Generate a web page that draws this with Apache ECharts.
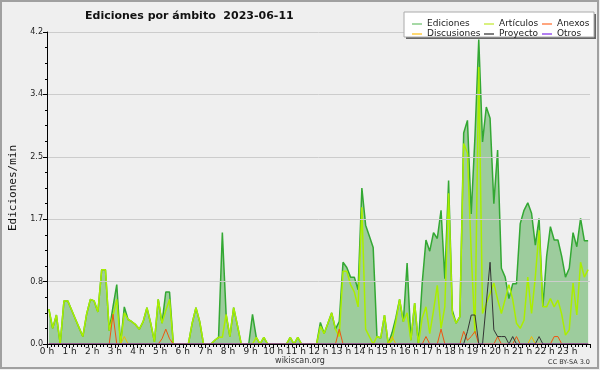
<!DOCTYPE html>
<html><head><meta charset="utf-8">
<script src="https://cdn.jsdelivr.net/npm/echarts@6/dist/echarts.min.js"></script>
<style>html,body{margin:0;padding:0;background:#efefef}#c{width:600px;height:370px}</style>
</head><body><div id="c"></div>
<script>
const title = 'Ediciones por ámbito  2023-06-11';
const seriesNames = ['Ediciones','Artículos','Anexos','Discusiones','Proyecto','Otros'];
const hourLabels = ['0 h','1 h','2 h','3 h','4 h','5 h','6 h','7 h','8 h','9 h','10 h','11 h','12 h','13 h','14 h','15 h','16 h','17 h','18 h','19 h','20 h','21 h','22 h','23 h'];
const yTicks = [0, 0.84, 1.68, 2.52, 3.36, 4.2];
// one value per 10 minutes (00:00 .. 23:50)
const ediciones = [
0.47,0.21,0.39,0,0.58,0.58,0.46,0.34,0.22,0.1,
0.4,0.6,0.58,0.43,1.0,1.0,0.18,0.5,0.8,0,
0.5,0.33,0.3,0.26,0.2,0.3,0.49,0.28,0.03,0.6,
0.28,0.7,0.7,0,0,0,0,0,0.28,0.49,
0.3,0,0,0,0.05,0.09,1.5,0.4,0.1,0.49,
0.25,0,0,0,0.4,0.09,0,0.09,0,0,
0,0,0,0,0.09,0,0.09,0,0,0,
0,0,0.29,0.14,0.28,0.42,0.2,0.3,1.1,1.03,
0.9,0.9,0.73,2.1,1.6,1.45,1.3,0.1,0.08,0.39,
0,0.15,0.35,0.6,0.3,1.09,0.05,0.55,0,0.82,
1.4,1.25,1.5,1.42,1.8,0.88,2.2,0.45,0.28,0.37,
2.84,3.01,1.75,2.8,4.1,2.72,3.19,3.04,1.89,2.61,
1.02,0.9,0.61,0.81,0.81,1.62,1.8,1.9,1.76,1.33,
1.69,0.5,1.18,1.58,1.4,1.4,1.18,0.9,1.02,1.5,
1.31,1.69,1.39,1.39];
const articulos = [
0.47,0.21,0.39,0,0.58,0.58,0.46,0.34,0.22,0.1,
0.4,0.6,0.58,0.43,1.0,1.0,0.18,0.38,0.6,0,
0.42,0.33,0.3,0.26,0.2,0.3,0.49,0.28,0.03,0.6,
0.28,0.45,0.6,0,0,0,0,0,0.28,0.49,
0.3,0,0,0,0.05,0.09,0.09,0.4,0.1,0.49,
0.25,0,0,0,0,0.09,0,0.09,0,0,
0,0,0,0,0.09,0,0.09,0,0,0,
0,0,0.24,0.14,0.28,0.42,0.2,0.1,0.98,0.98,
0.8,0.7,0.5,1.84,0.2,0.1,0,0.1,0.08,0.39,
0,0.05,0.3,0.6,0.3,0.42,0.05,0.55,0,0.35,
0.5,0.14,0.45,0.79,0.21,0.5,2.03,0.41,0.28,0.37,
2.7,2.57,1.22,0.14,3.73,0.41,0.55,0.68,0.82,0.6,
0.41,0.6,0.8,0.6,0.28,0.21,0.32,0.9,0.41,0.9,
1.53,0.5,0.5,0.61,0.5,0.59,0.4,0.12,0.19,0.82,
0.39,1.1,0.9,1.0];
const anexos = [
0,0,0,0,0,0,0,0,0,0, 0,0,0,0,0,0,0,0.4,0,0,
0,0,0,0,0,0,0,0,0,0, 0.07,0.2,0.07,0,0,0,0,0,0,0,
0,0,0,0,0,0,0,0,0,0, 0,0,0,0,0,0,0,0,0,0,
0,0,0,0,0,0,0,0,0,0, 0,0,0,0,0,0,0,0.2,0,0,
0,0,0,0,0,0,0,0,0,0, 0,0,0,0,0,0,0,0,0,0,
0.1,0,0,0,0.2,0,0,0,0,0, 0.17,0.05,0.1,0.17,0,0,0,0,0,0.1,
0,0,0,0,0.1,0,0,0,0,0, 0,0,0,0,0.1,0.1,0,0,0,0,
0,0,0,0];
const discusiones = [
0,0,0,0,0,0,0,0,0,0, 0,0,0,0,0,0,0,0,0,0,
0.1,0,0,0,0,0,0,0,0,0, 0,0,0,0,0,0,0,0,0,0,
0,0,0,0,0,0,0,0,0,0, 0,0,0,0,0,0,0,0,0,0,
0,0,0,0,0,0,0,0,0,0, 0,0,0,0,0,0,0,0,0,0,
0,0,0,0,0,0,0,0,0,0, 0,0.1,0,0,0,0,0,0,0,0,
0,0,0,0,0,0,0,0,0,0, 0,0,0,0,0,0,0,0,0,0,
0,0,0,0,0,0,0,0,0.1,0, 0,0,0,0,0,0,0,0,0,0,
0,0,0,0];
const proyecto = [
0,0,0,0,0,0,0,0,0,0, 0,0,0,0,0,0,0,0,0,0,
0,0,0,0,0,0,0,0,0,0, 0,0,0,0,0,0,0,0,0,0,
0,0,0,0,0,0,0,0,0,0, 0,0,0,0,0,0,0,0,0,0,
0,0,0,0,0,0,0,0,0,0, 0,0,0,0,0,0,0,0,0,0,
0,0,0,0,0,0,0,0,0,0, 0,0,0,0,0,0,0,0,0,0,
0,0,0,0,0,0,0,0,0,0, 0,0.17,0.39,0.39,0,0,0.55,1.1,0.19,0.1,
0.1,0.1,0,0.1,0,0,0,0,0,0, 0.1,0,0,0,0,0,0,0,0,0,
0,0,0,0];
const otros = new Array(144).fill(0);

const minutes = ediciones.map((_, k) => k * 10 + 5);
const pairs = arr => arr.map((v, k) => [minutes[k], v]);

const lineColors = ['#33a833','#aaee00','#ee5511','#eebb00','#333333','#9944ee'];
const legendColors = ['#88cc88','#cced55','#ff8855','#ffcc44','#555555','#9955ee'];
const allData = [ediciones, articulos, anexos, discusiones, proyecto, otros];

const chart = echarts.init(document.getElementById('c'), null, {renderer:'canvas'});
const legendFont = {fontFamily:'DejaVu Sans', fontSize:9, color:'#222', lineHeight:10};
function legendCol(names, left) {
  return {orient:'vertical', left:left, top:14, itemWidth:10, itemHeight:1.5, itemGap:0, icon:'rect',
    textStyle:legendFont, selectedMode:false, z:60,
    data:names.map(n => ({name:n, itemStyle:{color:legendColors[seriesNames.indexOf(n)]}}))};
}
chart.setOption({
  animation:false,
  backgroundColor:'#efefef',
  title:{text:title, left:80, top:6, textStyle:{fontFamily:'DejaVu Sans', fontWeight:'bold', fontSize:11, color:'#111'}},
  graphic:[
    {type:'rect', shape:{x:1,y:1,width:597,height:367}, style:{fill:'none', stroke:'#a0a0a0', lineWidth:2}, z:-1},
    {type:'rect', shape:{x:406,y:14,width:190,height:25}, style:{fill:'#666'}, z:50},
    {type:'rect', shape:{x:404,y:12,width:190,height:25}, style:{fill:'#fff', stroke:'#aaa', lineWidth:1}, z:51},
    {type:'text', left:'center', top:357, style:{text:'wikiscan.org', font:'8px "DejaVu Sans"', fill:'#333'}},
    {type:'text', right:10, top:359, style:{text:'CC BY-SA 3.0', font:'6.5px "DejaVu Sans"', fill:'#333'}}
  ],
  legend:[
    legendCol(['Ediciones','Discusiones'], 407),
    legendCol(['Artículos','Proyecto'], 479),
    legendCol(['Anexos','Otros'], 537)
  ],
  grid:{left:45, right:10, top:32, bottom:26},
  xAxis:{type:'value', min:0, max:1440, interval:60, z:10,
    axisLine:{lineStyle:{color:'#000', width:1}},
    axisTick:{length:4, lineStyle:{color:'#000'}},
    minorTick:{show:true, splitNumber:6, length:3, lineStyle:{color:'#000'}},
    splitLine:{show:false},
    axisLabel:{fontFamily:'DejaVu Sans', fontSize:9, color:'#222', margin:3,
      formatter:v => (v < 1440 ? hourLabels[v/60] : '')}},
  yAxis:{type:'value', min:yTicks[0], max:yTicks[yTicks.length-1], interval:yTicks[1], z:10,
    name:'Ediciones/min', nameLocation:'middle', nameGap:28, nameRotate:90,
    nameTextStyle:{fontFamily:'DejaVu Sans Mono', fontSize:11, color:'#111'},
    axisLine:{show:true, lineStyle:{color:'#000'}},
    axisTick:{show:true, length:4, lineStyle:{color:'#000'}},
    minorTick:{show:true, splitNumber:4, length:2, lineStyle:{color:'#000'}},
    splitLine:{show:true, lineStyle:{color:'#cccccc', width:1}},
    axisLabel:{fontFamily:'DejaVu Sans', fontSize:8, color:'#222', margin:4, formatter:v => v.toFixed(1)}},
  series: seriesNames.map((n, i) => {
    const s = {name:n, type:'line', data:pairs(allData[i]), symbol:'none', smooth:false,
      lineStyle:{color:lineColors[i], width:(i < 2 ? 1.5 : 1)}, itemStyle:{color:lineColors[i]}, z:2+i};
    if (i === 0) s.areaStyle = {color:'#9dcc9d', opacity:1};
    return s;
  })
});
</script></body></html>
